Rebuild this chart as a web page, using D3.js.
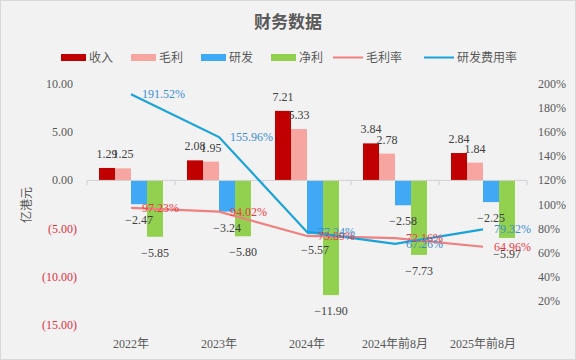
<!DOCTYPE html>
<html><head><meta charset="utf-8">
<script src="https://cdn.jsdelivr.net/npm/d3@7/dist/d3.min.js"></script>
<style>
html,body{margin:0;padding:0;background:#f2f2f2;}
svg{display:block;}
</style></head>
<body>
<script>
const categories = ["2022年","2023年","2024年","2024年前8月","2025年前8月"];
const revenue    = [1.29, 2.08, 7.21, 3.84, 2.84];
const grossProfit= [1.25, 1.95, 5.33, 2.78, 1.84];
const rnd        = [-2.47, -3.24, -5.57, -2.58, -2.25];
const netProfit  = [-5.85, -5.80, -11.90, -7.73, -5.97];
const grossMargin= [97.23, 94.02, 73.89, 72.16, 64.96];
const rndRatio   = [191.52, 155.96, 77.24, 67.26, 79.32];
const leftTicks  = [10, 5, 0, -5, -10, -15];
const rightTicks = [20, 40, 60, 80, 100, 120, 140, 160, 180, 200];

const barSeries = [
  {name:"收入", values:revenue, color:"#c00000"},
  {name:"毛利", values:grossProfit, color:"#f7a5a0"},
  {name:"研发", values:rnd, color:"#3fa9f5"},
  {name:"净利", values:netProfit, color:"#92d050"}
];
const lineSeries = [
  {name:"毛利率", values:grossMargin, color:"#f07f7f", labelColor:"#e83a44"},
  {name:"研发费用率", values:rndRatio, color:"#1aa3d9", labelColor:"#3a8fcf"}
];

const FONT = "'Liberation Serif', 'Times New Roman', 'Noto Sans CJK SC', serif";
const W=576,H=360;
const svg=d3.select("body").append("svg").attr("width",W).attr("height",H)
  .attr("font-family",FONT).style("font-family",FONT);
svg.append("rect").attr("x",0.5).attr("y",0.5).attr("width",W-1).attr("height",H-1)
  .attr("fill","#f2f2f2").attr("stroke","#d9d9d9");

const x=d3.scaleBand().domain(categories).range([87,527]);
const barW=16, barOff=(x.bandwidth()-barW*4)/2;
const y=d3.scaleLinear().domain([-15,10]).range([325,84]);
const y2=d3.scaleLinear().domain([0,200]).range([325,84]);

// title
svg.append("text").attr("x",288).attr("y",28).attr("text-anchor","middle")
  .attr("font-size",17).attr("font-weight","bold").attr("fill","#595959").text("财务数据");

// legend
const leg=[
  {name:"收入",type:"rect",color:"#c00000",x:61},
  {name:"毛利",type:"rect",color:"#f7a5a0",x:131},
  {name:"研发",type:"rect",color:"#3fa9f5",x:201},
  {name:"净利",type:"rect",color:"#92d050",x:271},
  {name:"毛利率",type:"line",color:"#f07f7f",x:333},
  {name:"研发费用率",type:"line",color:"#1aa3d9",x:424}
];
const lg=svg.append("g");
leg.forEach(d=>{
  if(d.type==="rect") lg.append("rect").attr("x",d.x).attr("y",54).attr("width",25).attr("height",7).attr("fill",d.color);
  else lg.append("line").attr("x1",d.x).attr("x2",d.x+30).attr("y1",57.5).attr("y2",57.5).attr("stroke",d.color).attr("stroke-width",2);
  lg.append("text").attr("x",d.x+(d.type==="rect"?28:33)).attr("y",61.5).attr("font-size",12).attr("fill","#595959").text(d.name);
});

// left axis labels
svg.append("g").selectAll("text").data(leftTicks).join("text")
  .attr("x",d=>d<0?77:73).attr("y",d=>y(d)+4).attr("text-anchor","end")
  .attr("font-size",12).attr("fill",d=>d<0?"#e0303c":"#595959")
  .text(d=>d<0?"("+d3.format(".2f")(-d)+")":d3.format(".2f")(d));
// right axis labels
svg.append("g").selectAll("text").data(rightTicks).join("text")
  .attr("x",538).attr("y",d=>y2(d)+4).attr("text-anchor","start")
  .attr("font-size",12).attr("fill","#595959").text(d=>d+"%");
// y title
svg.append("text").attr("transform","translate(31,205) rotate(-90)").attr("text-anchor","middle")
  .attr("font-size",12).attr("fill","#595959").text("亿港元");

// bars
barSeries.forEach((s,si)=>{
  const g=svg.append("g");
  g.selectAll("rect").data(s.values).join("rect")
    .attr("x",(d,i)=>x(categories[i])+barOff+si*barW)
    .attr("width",barW)
    .attr("y",d=>Math.min(y(d),y(0)))
    .attr("height",d=>Math.abs(y(d)-y(0)))
    .attr("fill",s.color);
});

// x axis line and ticks
const ax=svg.append("g");
ax.append("line").attr("x1",87).attr("x2",527).attr("y1",y(0)).attr("y2",y(0)).attr("stroke","#d0d0d0");
ax.selectAll("line.t").data(d3.range(categories.length+1)).join("line").attr("class","t")
  .attr("x1",i=>87+i*x.bandwidth()).attr("x2",i=>87+i*x.bandwidth())
  .attr("y1",y(0)).attr("y2",y(0)+5).attr("stroke","#d0d0d0");
// category labels
svg.append("g").selectAll("text").data(categories).join("text")
  .attr("x",d=>x(d)+x.bandwidth()/2).attr("y",348).attr("text-anchor","middle")
  .attr("font-size",12).attr("fill","#595959").text(d=>d);

// lines
lineSeries.forEach(s=>{
  const line=d3.line().x((d,i)=>x(categories[i])+x.bandwidth()/2).y(d=>y2(d));
  svg.append("path").datum(s.values).attr("d",line).attr("fill","none")
    .attr("stroke",s.color).attr("stroke-width",2.2);
});

// bar labels
const fmtNum=v=>v<0?"−"+d3.format(".2f")(-v):d3.format(".2f")(v);
barSeries.forEach((s,si)=>{
  svg.append("g").selectAll("text").data(s.values).join("text")
    .attr("x",(d,i)=>x(categories[i])+barOff+si*barW+barW/2)
    .attr("y",d=>d>=0?y(d)-10:y(d)+20)
    .attr("text-anchor","middle").attr("font-size",12).attr("fill","#404040")
    .text(d=>fmtNum(d));
});
// line labels
lineSeries.forEach(s=>{
  svg.append("g").selectAll("text").data(s.values).join("text")
    .attr("x",(d,i)=>x(categories[i])+x.bandwidth()/2+11)
    .attr("y",d=>y2(d)+4)
    .attr("font-size",12).attr("fill",s.labelColor)
    .text(d=>d3.format(".2f")(d)+"%");
});
</script>
</body></html>
